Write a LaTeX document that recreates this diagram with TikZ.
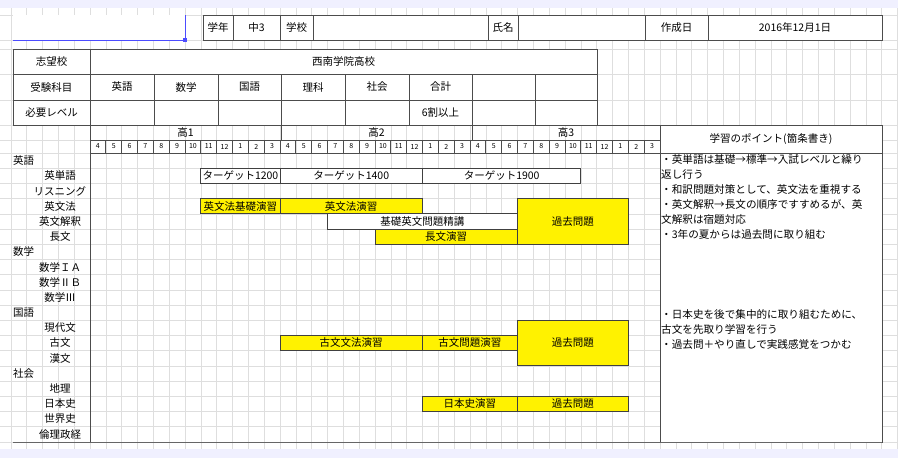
\documentclass[tikz,border=0pt]{standalone}
\usepackage{fontspec}
\setmainfont{Noto Sans CJK JP}
\begin{document}
\begin{tikzpicture}[x=1pt,y=-1pt,
  cellline/.style={draw=black!70,line width=0.7pt},
  gridline/.style={draw=black!13,line width=0.6pt},
  lbl/.style={font=\fontsize{10.5}{11}\selectfont,inner sep=0pt},
  mon/.style={font=\fontsize{7}{7}\selectfont,inner sep=0pt},
  wbar/.style={draw=black!75,line width=0.7pt,fill=white},
  ybar/.style={draw=black!75,line width=0.7pt,fill=yellow},
  pt/.style={font=\fontsize{10.6}{15}\selectfont,inner sep=0pt,anchor=north west,align=left}]
\useasboundingbox (0,0) rectangle (898,458);
\fill[white] (0,0) rectangle (898,458);
\fill[blue!6!white] (0,0) rectangle (898,8);
\fill[blue!6!white] (0,449) rectangle (898,458);
% grid
\foreach \k in {-5,...,51} \draw[gridline] ({90+15.833*\k},8) -- ({90+15.833*\k},449);
\foreach \j in {0,...,19} \draw[gridline] (0,{153+15.2*\j}) -- (898,{153+15.2*\j});
\foreach \yy in {15,40,49,74,100,125,140} \draw[gridline] (0,\yy) -- (898,\yy);
% top row
\fill[white] (13,15) rectangle (185,40);
\draw[blue!70!white,line width=1pt] (13,40) -- (185,40) -- (185,15);
\fill[blue!70!white] (183,38) rectangle (187,42);
\filldraw[cellline,fill=white] (203,15) rectangle (882,40);
\foreach \xx in {233,280,313,488,518,645,708} \draw[cellline] (\xx,15) -- (\xx,40);
\node[lbl] (gakunen) at (218,27.5) {学年};
\node[lbl] (chu) at (256.5,27.5) {中3};
\node[lbl] (gakko) at (296.5,27.5) {学校};
\node[lbl] (shimei) at (503,27.5) {氏名};
\node[lbl] (sakusei) at (676.5,27.5) {作成日};
\node[lbl] (date) at (795,27.5) {2016年12月1日};
% target table
\filldraw[cellline,fill=white] (13,49) rectangle (597,125);
\draw[cellline] (13,74) -- (597,74) (13,100) -- (597,100) (90,49) -- (90,125);
\foreach \xx in {154,218,281,345,409,472,535} \draw[cellline] (\xx,74) -- (\xx,125);
\node[lbl] (shibo) at (51.5,61.5) {志望校};
\node[lbl] (school) at (343.5,61.5) {西南学院高校};
\node[lbl] (juken) at (51.5,87) {受験科目};
\node[lbl] (hitsuyo) at (51.5,112.5) {必要レベル};
\node[lbl] (s1) at (122,87) {英語};
\node[lbl] (s2) at (186,87) {数学};
\node[lbl] (s3) at (249.5,87) {国語};
\node[lbl] (s4) at (313,87) {理科};
\node[lbl] (s5) at (377,87) {社会};
\node[lbl] (s6) at (440.5,87) {合計};
\node[lbl] (lv) at (440.5,112.5) {6割以上};
% header
\draw[cellline] (90,125) -- (660,125) (90,125) -- (90,442) (90,140) -- (660,140) (90,153) -- (660,153);
\foreach \xx in {281,472} \draw[cellline] (\xx,125) -- (\xx,140);
\foreach \i [count=\c from 0] in {4,5,6,7,8,9,10,11,12,1,2,3,4,5,6,7,8,9,10,11,12,1,2,3,4,5,6,7,8,9,10,11,12,1,2,3} {
  \draw[cellline] ({90+15.833*\c},140) -- ({90+15.833*\c},153);
  \node[mon] (m\c) at ({90+15.833*(\c+0.5)},146.5) {\i};
}
\node[lbl] (k1) at (185.5,132.5) {高1};
\node[lbl] (k2) at (376.5,132.5) {高2};
\node[lbl] (k3) at (566,132.5) {高3};
% points column
\filldraw[cellline,fill=white] (660,125) rectangle (882,442);
\draw[cellline] (660,153) -- (882,153);
\node[lbl] (ptitle) at (771,139) {学習のポイント(箇条書き)};
\node[pt] (p1) at (661,154) {・英単語は基礎→標準→入試レベルと繰り\\返し行う\\・和訳問題対策として、英文法を重視する\\・英文解釈→長文の順序ですすめるが、英\\文解釈は宿題対応\\・3年の夏からは過去問に取り組む};
\node[pt] (p2) at (661,309) {・日本史を後で集中的に取り組むために、\\古文を先取り学習を行う\\・過去問＋やり直しで実践感覚をつかむ};
\draw[black!60,line width=1pt] (13,442) -- (882,442);
% row labels
\foreach \t/\j/\ind in {英語/0/0,英単語/1/1,リスニング/2/1,英文法/3/1,英文解釈/4/1,長文/5/1,数学/6/0,数学ＩＡ/7/1,数学ⅡＢ/8/1,数学Ⅲ/9/1,国語/10/0,現代文/11/1,古文/12/1,漢文/13/1,社会/14/0,地理/15/1,日本史/16/1,世界史/17/1,倫理政経/18/1} {
  \ifnum\ind=0
    \node[lbl,anchor=west] (r\j) at (13,{153+15.2*(\j+0.5)}) {\t};
  \else
    \node[lbl] (r\j) at (60,{153+15.2*(\j+0.5)}) {\t};
  \fi
}
% bars
\draw[wbar] ({90+15.833*7},{153+15.2}) rectangle ({90+15.833*12},{153+15.2*2}) node[lbl,midway] (b1) {ターゲット1200};
\draw[wbar] ({90+15.833*12},{153+15.2}) rectangle ({90+15.833*21},{153+15.2*2}) node[lbl,midway] (b2) {ターゲット1400};
\draw[wbar] ({90+15.833*21},{153+15.2}) rectangle ({90+15.833*31},{153+15.2*2}) node[lbl,midway] (b3) {ターゲット1900};
\draw[ybar] ({90+15.833*7},{153+15.2*3}) rectangle ({90+15.833*12},{153+15.2*4}) node[lbl,midway] (b4) {英文法基礎演習};
\draw[ybar] ({90+15.833*12},{153+15.2*3}) rectangle ({90+15.833*21},{153+15.2*4}) node[lbl,midway] (b5) {英文法演習};
\draw[wbar] ({90+15.833*15},{153+15.2*4}) rectangle ({90+15.833*27},{153+15.2*5}) node[lbl,midway] (b6) {基礎英文問題精講};
\draw[ybar] ({90+15.833*18},{153+15.2*5}) rectangle ({90+15.833*27},{153+15.2*6}) node[lbl,midway] (b7) {長文演習};
\draw[ybar] ({90+15.833*27},{153+15.2*3}) rectangle ({90+15.833*34},{153+15.2*6}) node[lbl,midway] (b8) {過去問題};
\draw[ybar] ({90+15.833*12},{153+15.2*12}) rectangle ({90+15.833*21},{153+15.2*13}) node[lbl,midway] (b9) {古文文法演習};
\draw[ybar] ({90+15.833*21},{153+15.2*12}) rectangle ({90+15.833*27},{153+15.2*13}) node[lbl,midway] (b10) {古文問題演習};
\draw[ybar] ({90+15.833*27},{153+15.2*11}) rectangle ({90+15.833*34},{153+15.2*14}) node[lbl,midway] (b11) {過去問題};
\draw[ybar] ({90+15.833*21},{153+15.2*16}) rectangle ({90+15.833*27},{153+15.2*17}) node[lbl,midway] (b12) {日本史演習};
\draw[ybar] ({90+15.833*27},{153+15.2*16}) rectangle ({90+15.833*34},{153+15.2*17}) node[lbl,midway] (b13) {過去問題};
\end{tikzpicture}
\end{document}
